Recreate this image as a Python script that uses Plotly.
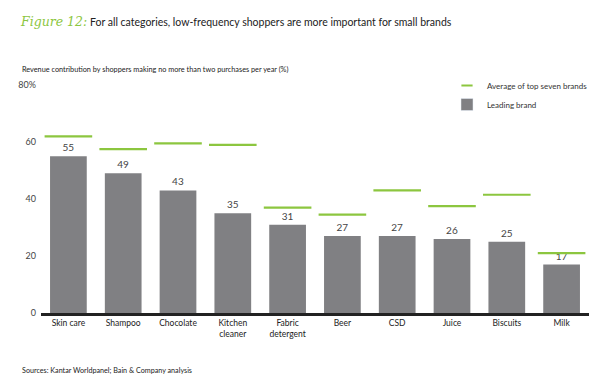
import plotly.graph_objects as go

categories = ["Skin care", "Shampoo", "Chocolate", "Kitchen<br>cleaner", "Fabric<br>detergent",
              "Beer", "CSD", "Juice", "Biscuits", "Milk"]
leading_brand = [55, 49, 43, 35, 31, 27, 27, 26, 25, 17]
top_seven_avg = [62, 57.5, 59.5, 59, 37, 34.5, 43, 37.5, 41.5, 21]
y_ticks = [0, 20, 40, 60, 80]
y_tick_labels = ["0", "20", "40", "60", "80%"]

GREEN = "#8cc63f"
GRAY = "#808083"
FONT = "Lato, 'DejaVu Sans', sans-serif"

fig = go.Figure()
fig.add_trace(go.Scatter(
    x=categories, y=top_seven_avg, mode="markers", name="Average of top seven brands",
    marker=dict(symbol="line-ew", size=34, color=GREEN, line=dict(color=GREEN, width=2.2)),
    hoverinfo="skip", showlegend=False,
))
fig.add_trace(go.Bar(
    x=categories, y=leading_brand, name="Leading brand",
    marker=dict(color=GRAY, line=dict(width=0)),
    width=0.67,
    text=leading_brand, textposition="outside", cliponaxis=False,
    textfont=dict(size=10, color="#444444", family=FONT),
    showlegend=False,
))
# legend-only entries
fig.add_trace(go.Scatter(
    x=[None], y=[None], mode="markers", name="Average of top seven brands",
    marker=dict(symbol="line-ew", size=8, color=GREEN, line=dict(color=GREEN, width=2)),
))
fig.add_trace(go.Bar(
    x=[None], y=[None], name="Leading brand", marker=dict(color=GRAY),
))

# the page body has an 8px default margin, so positions below are shifted by 8px
OFF = 8
W, H = 600, 384
ML, MR, MT, MB = 41 - OFF, 600 - (589 - OFF), 85 - OFF, 384 - (313 - OFF)
pw = W - ML - MR
ph = H - MT - MB
def px(xp):
    return (xp - OFF - ML) / pw
def py(yp):
    return (H - MB - (yp - OFF)) / ph

fig.update_layout(
    width=W, height=H,
    margin=dict(l=ML, r=MR, t=MT, b=MB, autoexpand=False),
    paper_bgcolor="white", plot_bgcolor="white",
    font=dict(family=FONT, size=9, color="#222222"),
    showlegend=True,
    legend=dict(x=px(447), xanchor="left", y=py(71), yanchor="top", traceorder="normal",
                font=dict(size=8, color="#333333"), bgcolor="rgba(0,0,0,0)",
                itemsizing="trace", tracegroupgap=0, itemwidth=30),
    bargap=0.33,
    xaxis=dict(showgrid=False, showline=True, linecolor="#222222", linewidth=2.5,
               ticks="", tickfont=dict(size=8.5, color="#222222"), range=[-0.5, 9.5]),
    yaxis=dict(range=[0, 80], tickvals=y_ticks, ticktext=y_tick_labels, showgrid=False,
               zeroline=False, showline=False, ticks="", ticklabelstandoff=4,
               tickfont=dict(size=9, color="#444444")),
)

fig.add_annotation(text="<i>Figure 12:</i>", x=px(18), y=py(22), xref="paper", yref="paper",
                   showarrow=False, xanchor="left", yanchor="middle",
                   font=dict(size=12.5, color=GREEN, family="'DejaVu Serif', serif"))
fig.add_annotation(text="For all categories, low-frequency shoppers are more important for small brands",
                   x=px(88), y=py(22), xref="paper", yref="paper", showarrow=False,
                   xanchor="left", yanchor="middle", font=dict(size=10.5, color="#222222"))
fig.add_annotation(text="Revenue contribution by shoppers making no more than two purchases per year (%)",
                   x=px(20), y=py(69), xref="paper", yref="paper", showarrow=False,
                   xanchor="left", yanchor="middle", font=dict(size=7.3, color="#222222"))
fig.add_annotation(text="Sources: Kantar Worldpanel; Bain & Company analysis",
                   x=px(20), y=py(370), xref="paper", yref="paper", showarrow=False,
                   xanchor="left", yanchor="middle", font=dict(size=7.2, color="#222222"))

fig.write_html("out.html")
